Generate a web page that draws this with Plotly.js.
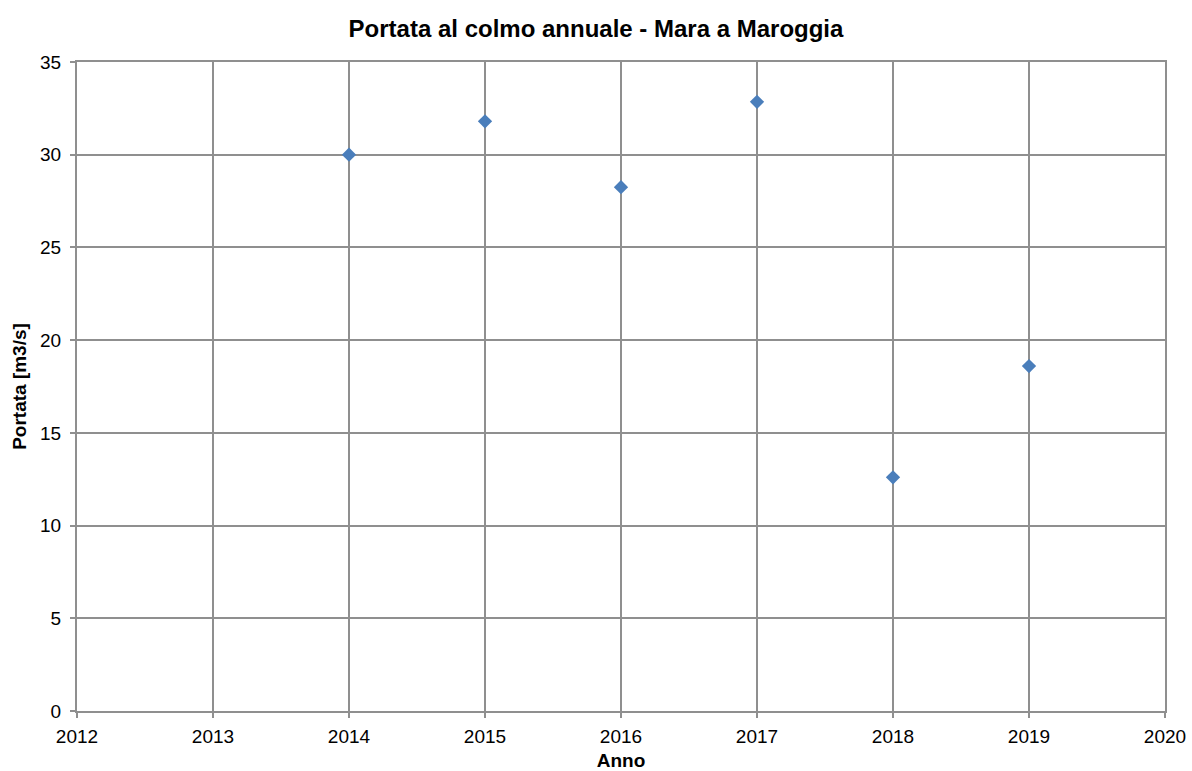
<!DOCTYPE html>
<html>
<head>
<meta charset="utf-8">
<script src="https://cdn.plot.ly/plotly-3.0.1.min.js"></script>
<style>html,body{margin:0;padding:0;background:#fff;}#chart{width:1192px;height:771px;}</style>
</head>
<body>
<div id="chart"></div>
<script>
const years = [2014, 2015, 2016, 2017, 2018, 2019];
const portata = [30.0, 31.8, 28.25, 32.85, 12.6, 18.6];
const xTicks = [2012, 2013, 2014, 2015, 2016, 2017, 2018, 2019, 2020];
const yTicks = [0, 5, 10, 15, 20, 25, 30, 35];

const gridColor = '#8f8f8f';
const fontFam = 'Liberation Sans, Arial, sans-serif';

Plotly.newPlot('chart', [{
  x: years, y: portata, type: 'scatter', mode: 'markers',
  marker: {symbol: 'diamond', size: 11, color: '#4a7ebb'},
  cliponaxis: false
}], {
  width: 1192, height: 771,
  margin: {l: 77, r: 27, t: 62, b: 60},
  paper_bgcolor: '#fff', plot_bgcolor: '#fff',
  showlegend: false,
  font: {family: fontFam, color: '#000', size: 19},
  title: {text: '<b>Portata al colmo annuale - Mara a Maroggia</b>', x: 0.5, xanchor: 'center', y: 0.963, yanchor: 'middle', font: {size: 24, family: fontFam}},
  xaxis: {
    range: [2012, 2020], tickvals: xTicks, ticktext: xTicks.map(String),
    showgrid: true, gridcolor: gridColor, gridwidth: 2,
    showline: true, linecolor: gridColor, linewidth: 2, mirror: true,
    ticks: 'outside', ticklen: 5, tickcolor: gridColor, tickwidth: 2,
    zeroline: false, tickfont: {size: 19}, ticklabelstandoff: 2,
    title: {text: '<b>Anno</b>', font: {size: 19}, standoff: 10}
  },
  yaxis: {
    range: [0, 35], tickvals: yTicks, ticktext: yTicks.map(String),
    showgrid: true, gridcolor: gridColor, gridwidth: 2,
    showline: true, linecolor: gridColor, linewidth: 2, mirror: true,
    ticks: 'outside', ticklen: 5, tickcolor: gridColor, tickwidth: 2,
    zeroline: false, tickfont: {size: 19}, ticklabelstandoff: 5,
    title: {text: '<b>Portata [m3/s]</b>', font: {size: 19}, standoff: 8}
  }
}, {displayModeBar: false, staticPlot: true});
</script>
</body>
</html>
